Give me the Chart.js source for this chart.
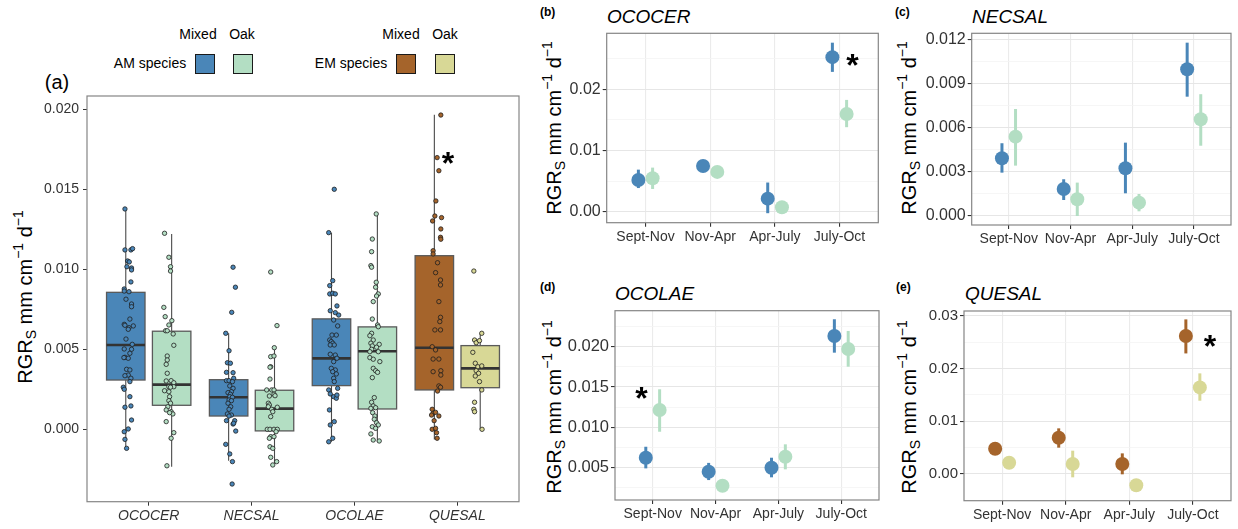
<!DOCTYPE html>
<html><head><meta charset="utf-8">
<script src="https://cdn.jsdelivr.net/npm/chart.js@4.4.1/dist/chart.umd.min.js"></script>
<style>
body{margin:0;background:#fff;width:1238px;height:529px;position:relative;overflow:hidden;font-family:"Liberation Sans",Arial,Helvetica,sans-serif;color:#000;}
canvas{position:absolute;}
.t{position:absolute;white-space:nowrap;line-height:1;}
.c{transform:translate(-50%,-50%);}
.l{transform:translateY(-50%);}
.yt{position:absolute;white-space:nowrap;font-size:20px;line-height:1;transform:translate(-50%,-50%) rotate(-90deg);}
.yt sub{font-size:14px;vertical-align:-4px;line-height:0;}
.yt sup{font-size:14px;vertical-align:9px;line-height:0;}
.key{position:absolute;width:20px;height:20px;box-sizing:border-box;border:1.6px solid #1a1a1a;}
.ptitle{font-size:19px;font-style:italic;}
.plab{font-size:12px;font-weight:bold;}
</style></head>
<body>
<!-- legend -->
<div class="t c" style="left:198px;top:34px;font-size:14px">Mixed</div>
<div class="t c" style="left:242px;top:34px;font-size:14px">Oak</div>
<div class="t c" style="left:150px;top:63px;font-size:14px">AM species</div>
<div class="key" style="left:195px;top:54px;background:#4a86b8"></div>
<div class="key" style="left:233px;top:54px;background:#b3dec3"></div>
<div class="t c" style="left:401px;top:34px;font-size:14px">Mixed</div>
<div class="t c" style="left:445px;top:34px;font-size:14px">Oak</div>
<div class="t c" style="left:351px;top:63px;font-size:14px">EM species</div>
<div class="key" style="left:396px;top:54px;background:#a5642b"></div>
<div class="key" style="left:435px;top:54px;background:#d8d896"></div>
<div class="t c" style="left:57px;top:82px;font-size:20px">(a)</div>

<div class="yt" style="left:25px;top:297px">RGR<sub>S</sub> mm cm<sup>−1</sup> d<sup>−1</sup></div>
<div class="yt" style="left:554px;top:128px">RGR<sub>S</sub> mm cm<sup>−1</sup> d<sup>−1</sup></div>
<div class="yt" style="left:909px;top:128px">RGR<sub>S</sub> mm cm<sup>−1</sup> d<sup>−1</sup></div>
<div class="yt" style="left:554px;top:407px">RGR<sub>S</sub> mm cm<sup>−1</sup> d<sup>−1</sup></div>
<div class="yt" style="left:909px;top:407px">RGR<sub>S</sub> mm cm<sup>−1</sup> d<sup>−1</sup></div>

<div class="t l plab" style="left:540px;top:12px">(b)</div>
<div class="t l ptitle" style="left:607px;top:16px">OCOCER</div>
<div class="t l plab" style="left:895px;top:12px">(c)</div>
<div class="t l ptitle" style="left:972px;top:16px">NECSAL</div>
<div class="t l plab" style="left:540px;top:287px">(d)</div>
<div class="t l ptitle" style="left:615px;top:293px">OCOLAE</div>
<div class="t l plab" style="left:896px;top:287px">(e)</div>
<div class="t l ptitle" style="left:965px;top:293px">QUESAL</div>

<canvas id="ca" width="490" height="439" style="left:40px;top:90px"></canvas>
<canvas id="cb" width="360" height="245" style="left:530px;top:25px"></canvas>
<canvas id="cc" width="353" height="245" style="left:885px;top:25px"></canvas>
<canvas id="cd" width="360" height="229" style="left:530px;top:300px"></canvas>
<canvas id="ce" width="353" height="229" style="left:885px;top:300px"></canvas>

<script>
// ---------------- DATA ----------------
const categoriesA = ['OCOCER','NECSAL','OCOLAE','QUESAL'];
const periods = ['Sept-Nov','Nov-Apr','Apr-July','July-Oct'];

const colAMMixed = '#4a86b8', colAMOak = '#b3dec3', colEMMixed = '#a5642b', colEMOak = '#d8d896';
const mixedColors = [colAMMixed, colAMMixed, colAMMixed, colEMMixed];
const oakColors = [colAMOak, colAMOak, colAMOak, colEMOak];

// panel (a) box statistics
const mixedLow  = [-0.00123, -0.00196, -0.00078, -0.00063];
const mixedQ1   = [0.00308, 0.00083, 0.00273, 0.00246];
const mixedMed  = [0.00527, 0.00200, 0.00443, 0.00510];
const mixedQ3   = [0.00856, 0.00310, 0.00690, 0.01085];
const mixedHigh = [0.01377, 0.00600, 0.01229, 0.01966];
const oakLow  = [-0.00234, -0.00213, -0.00078, 0.00000];
const oakQ1   = [0.00150, -0.00010, 0.00127, 0.00260];
const oakMed  = [0.00279, 0.00129, 0.00488, 0.00381];
const oakQ3   = [0.00613, 0.00244, 0.00640, 0.00523];
const oakHigh = [0.01220, 0.00510, 0.01346, 0.00600];

// panel (a) individual observations (values and read-off jitter offsets)
const ococerMixedVals = [0.01377,0.01121,0.01121,0.01129,0.01052,0.01046,0.01016,0.01008,0.00996,0.00921,0.00877,0.00864,0.0086,0.00813,0.00783,0.00766,0.00689,0.00656,0.0065,0.00646,0.00635,0.00625,0.00564,0.00531,0.00502,0.005,0.00475,0.0045,0.00444,0.00448,0.00375,0.00371,0.00339,0.00335,0.00319,0.00298,0.00263,0.0025,0.00204,0.00138,0.00146,0.00058,-0.00015,0.00002,-0.00063,-0.00119];
const ococerMixedJit = [-0.008,-0.008,0.05,0.066,0.018,0.034,0.011,0.056,0.056,0.05,-0.015,-0.015,0.031,0.002,0.056,0.056,0.04,-0.015,-0.008,0.073,0.031,0.024,0.002,0.063,-0.015,0.056,0.04,-0.008,0.024,-0.018,0.008,0.04,0.024,-0.008,0.05,0.04,-0.024,-0.015,0.04,-0.008,0.05,0.056,-0.015,0.024,-0.008,0.008];
const ococerOakVals = [0.01225,0.01075,0.01016,0.00989,0.00762,0.00704,0.00652,0.00679,0.00616,0.00616,0.00596,0.00525,0.00458,0.00433,0.00406,0.0035,0.00302,0.00304,0.00291,0.00241,0.00266,0.00266,0.00263,0.00235,0.00204,0.00179,0.00163,0.00141,0.00121,0.0011,0.00096,0.00104,0.00048,-0.00021,-0.00056,-0.00228];
const ococerOakJit = [-0.069,-0.027,-0.011,-0.011,-0.076,-0.063,-0.027,0.002,-0.059,-0.043,0.015,0.021,-0.043,-0.043,-0.053,-0.043,-0.053,-0.005,0.021,-0.069,-0.027,0.021,-0.011,-0.027,-0.02,-0.027,-0.011,-0.037,-0.053,-0.005,0.012,-0.02,-0.053,0.021,-0.005,-0.046];
const necsalMixedVals = [0.01013,0.00888,0.00731,0.006,0.00491,0.00416,0.00413,0.00356,0.00354,0.00319,0.00304,0.00304,0.00298,0.00271,0.00256,0.00235,0.00229,0.00219,0.00204,0.002,0.00183,0.00179,0.00163,0.00141,0.00125,0.00096,0.00089,0.00083,0.00054,0.00054,0.00033,0.00038,-0.00011,-0.00094,-0.00154,-0.00202,-0.00342];
const necsalMixedJit = [0.043,0.066,0.03,-0.028,0.004,-0.012,0.017,-0.021,0.043,0.049,-0.021,0.004,0.037,0.011,0.043,0.027,-0.006,0.017,0.011,0.037,0.004,0.027,-0.006,0.02,0.004,-0.012,0.027,0.004,-0.021,0.059,0.043,0.049,0.069,-0.028,0.011,0.037,0.034];
const necsalOakVals = [0.00983,0.00648,0.0051,0.00454,0.00458,0.00391,0.00388,0.00314,0.00246,0.00246,0.00246,0.00208,0.00219,0.0021,0.00163,0.00152,0.00141,0.00138,0.00125,0.0011,0.00079,0,0,0,0,-0.00015,-0.00046,-0.00046,-0.00056,-0.00109,-0.00119,-0.00175,-0.00202,-0.00223];
const necsalOakJit = [-0.037,0.024,-0.002,-0.037,-0.005,-0.037,-0.044,-0.044,-0.076,-0.027,-0.005,-0.05,-0.005,0.005,-0.06,-0.05,-0.06,0.027,-0.027,-0.017,-0.037,-0.07,-0.044,-0.005,0.027,0.015,-0.037,-0.005,-0.05,-0.044,-0.017,-0.037,0.021,-0.017];
const ocolaeMixedVals = [0.015,0.01229,0.00929,0.00898,0.00846,0.0085,0.00846,0.00741,0.00771,0.00729,0.00714,0.00683,0.00646,0.00589,0.00589,0.00558,0.00548,0.00538,0.00527,0.00527,0.00469,0.00464,0.00423,0.00444,0.00381,0.00371,0.0036,0.00346,0.00319,0.00298,0.00246,0.00256,0.00221,0.00204,0.00194,0.00214,0.00121,0.00048,0.00027,-0.00056,-0.00078];
const ocolaeMixedJit = [0.027,-0.027,0.012,-0.017,-0.017,0.012,0.037,-0.012,0.053,0.037,0.07,0.021,0.06,0.005,0.047,-0.017,-0.002,0.012,-0.012,0.027,-0.012,0.037,0.021,0.053,-0.002,0.037,0.012,0.047,0.021,0.027,-0.027,0.06,-0.012,0.021,0.047,0.053,-0.02,0.027,-0.012,0.012,-0.027];
const ocolaeOakVals = [0.01346,0.01189,0.0111,0.01023,0.01013,0.00919,0.00888,0.00846,0.00833,0.00798,0.00689,0.00652,0.00641,0.006,0.00585,0.00558,0.00538,0.00531,0.00521,0.00513,0.005,0.00485,0.00485,0.00448,0.00438,0.00423,0.00381,0.00366,0.00356,0.00323,0.00198,0.00169,0.00146,0.00135,0.00131,0.00104,0.00083,0.00063,0.00041,0.00027,0.00016,0.00006,-0.00029,-0.00073,-0.00067];
const ocolaeOakJit = [-0.011,-0.049,-0.056,-0.063,-0.056,-0.011,-0.017,0.009,-0.008,-0.04,-0.049,0.002,0.009,-0.056,-0.073,-0.04,-0.063,0.018,-0.049,-0.008,-0.056,-0.073,0.009,-0.073,-0.04,0.024,-0.04,-0.017,0.002,-0.049,-0.03,-0.056,-0.04,-0.017,-0.063,-0.046,-0.024,-0.03,-0.008,0.009,-0.049,-0.017,-0.063,0.018,-0.04];
const quesalMixedVals = [0.01964,0.01698,0.01616,0.01427,0.01333,0.01323,0.01302,0.01252,0.012,0.01188,0.01116,0.01096,0.01041,0.00979,0.00933,0.00902,0.00798,0.007,0.00673,0.00621,0.00621,0.00516,0.00496,0.00439,0.00439,0.0036,0.00366,0.00339,0.00271,0.00263,0.00239,0.00125,0.001,0.00089,0.00106,0.00083,0.00054,0,0.00006,-0.00021,-0.00056];
const quesalMixedJit = [0.063,0.027,0.044,0.015,0.005,0.07,-0.017,0.063,0.06,0.063,-0.012,-0.012,0.031,0.012,0.06,0.06,0.044,0.06,0.053,0.005,0.06,-0.021,0.012,-0.012,0.044,-0.012,0.063,0.063,0.044,0.06,0.031,-0.021,-0.012,-0.027,0.012,0.044,-0.002,-0.021,0.012,0.021,0.027];
const quesalOakVals = [0.00989,0.006,0.00558,0.00541,0.00554,0.00481,0.00413,0.00391,0.00396,0.00366,0.0035,0.00333,0.00298,0.00246,0.00169,0.00125,0.0011,0];
const quesalOakJit = [-0.062,0.015,-0.055,-0.039,-0.007,-0.072,-0.048,-0.023,0.015,-0.039,-0.016,-0.048,-0.007,0.015,-0.055,-0.062,-0.055,0.018];

const tickValuesA = [0, 0.005, 0.01, 0.015, 0.02];
const tickLabelsA = ['0.000','0.005','0.010','0.015','0.020'];

// panels (b)-(e): mean and interval per period
const ococerMixedMean = [0.00522, 0.00750, 0.00217, 0.02524];
const ococerMixedLo   = [0.00390, 0.00690, -0.00020, 0.02284];
const ococerMixedHi   = [0.00690, 0.00810, 0.00480, 0.02760];
const ococerOakMean = [0.00550, 0.00653, 0.00077, 0.01598];
const ococerOakLo   = [0.00375, 0.00580, 0.00030, 0.01382];
const ococerOakHi   = [0.00723, 0.00730, 0.00120, 0.01827];

const necsalMixedMean = [0.00392, 0.00182, 0.00324, 0.01000];
const necsalMixedLo   = [0.00294, 0.00107, 0.00153, 0.00813];
const necsalMixedHi   = [0.00495, 0.00249, 0.00499, 0.01182];
const necsalOakMean = [0.00540, 0.00112, 0.00089, 0.00659];
const necsalOakLo   = [0.00342, -0.00002, 0.00030, 0.00478];
const necsalOakHi   = [0.00729, 0.00226, 0.00148, 0.00830];

const ocolaeMixedMean = [0.00624, 0.00450, 0.00500, 0.02133];
const ocolaeMixedLo   = [0.00492, 0.00347, 0.00381, 0.01926];
const ocolaeMixedHi   = [0.00760, 0.00560, 0.00624, 0.02340];
const ocolaeOakMean = [0.01215, 0.00277, 0.00636, 0.01972];
const ocolaeOakLo   = [0.00946, 0.00220, 0.00480, 0.01752];
const ocolaeOakHi   = [0.01472, 0.00330, 0.00790, 0.02195];

const quesalMixedMean = [0.00479, 0.00688, 0.00189, 0.02614];
const quesalMixedLo   = [0.00400, 0.00499, -0.00006, 0.02285];
const quesalMixedHi   = [0.00560, 0.00865, 0.00391, 0.02930];
const quesalOakMean = [0.00214, 0.00189, -0.00214, 0.01641];
const quesalOakLo   = [0.00150, -0.00063, -0.00280, 0.01389];
const quesalOakHi   = [0.00280, 0.00442, -0.00150, 0.01907];

const ticksB = [0, 0.01, 0.02], labelsB = ['0.00','0.01','0.02'], minorB = [0.005, 0.015, 0.025];
const ticksC = [0, 0.003, 0.006, 0.009, 0.012], labelsC = ['0.000','0.003','0.006','0.009','0.012'], minorC = [0.0015, 0.0045, 0.0075, 0.0105];
const ticksD = [0.005, 0.01, 0.015, 0.02], labelsD = ['0.005','0.010','0.015','0.020'], minorD = [0.0025, 0.0075, 0.0125, 0.0175, 0.0225];
const ticksE = [0, 0.01, 0.02, 0.03], labelsE = ['0.00','0.01','0.02','0.03'], minorE = [-0.005, 0.005, 0.015, 0.025];

// significance markers: [x (category units), y]
const starA = [3.91, 0.01713];
const starB = [4.2, 0.02524];
const starD = [0.82, 0.01455];
const starE = [4.27, 0.02557];

// ---------------- RENDER ----------------
const FONT = '"Liberation Sans", Arial, Helvetica, sans-serif';
Chart.defaults.font.family = FONT;
Chart.defaults.animation = false;

function frameAndStar(star) {
  return {
    id: 'frame',
    afterDraw(chart) {
      const {ctx, chartArea: a, scales: {x, y}} = chart;
      ctx.save();
      ctx.strokeStyle = '#858585';
      ctx.lineWidth = 1.2;
      ctx.strokeRect(a.left, a.top, a.right - a.left, a.bottom - a.top);
      if (star) {
        const size = 32;
        ctx.font = 'bold ' + size + 'px ' + FONT;
        ctx.fillStyle = '#000';
        ctx.textAlign = 'center';
        ctx.textBaseline = 'alphabetic';
        ctx.fillText('*', x.getPixelForValue(star[0]), y.getPixelForValue(star[1]) + 0.575 * size);
      }
      ctx.restore();
    }
  };
}

function fixAxis(size, isX) {
  return function (s) {
    if (isX) s.height = size; else s.width = size;
    s.paddingTop = 0; s.paddingBottom = 0; s.paddingLeft = 0; s.paddingRight = 0;
  };
}

// ---- panel (a)
(function () {
  const dodge = [-0.223, 0.223], half = 0.187;
  const groups = [
    [ococerMixedVals, ococerMixedJit, 0, 0], [ococerOakVals, ococerOakJit, 0, 1],
    [necsalMixedVals, necsalMixedJit, 1, 0], [necsalOakVals, necsalOakJit, 1, 1],
    [ocolaeMixedVals, ocolaeMixedJit, 2, 0], [ocolaeOakVals, ocolaeOakJit, 2, 1],
    [quesalMixedVals, quesalMixedJit, 3, 0], [quesalOakVals, quesalOakJit, 3, 1]
  ];
  const datasets = groups.map(([vals, jit, ci, si]) => ({
    data: vals.map((v, i) => ({x: ci + 1 + dodge[si] + (jit[i] || 0), y: v})),
    backgroundColor: si === 0 ? mixedColors[ci] : oakColors[ci],
    borderColor: '#1e1e1e',
    borderWidth: 0.8,
    pointRadius: 2.2,
    showLine: false
  }));
  const boxPlugin = {
    id: 'boxes',
    beforeDatasetsDraw(chart) {
      const {ctx, scales: {x, y}} = chart;
      const sets = [
        [mixedLow, mixedQ1, mixedMed, mixedQ3, mixedHigh, mixedColors, dodge[0]],
        [oakLow, oakQ1, oakMed, oakQ3, oakHigh, oakColors, dodge[1]]
      ];
      ctx.save();
      sets.forEach(([lo, q1, med, q3, hi, cols, off]) => {
        categoriesA.forEach((c, i) => {
          const xc = x.getPixelForValue(i + 1 + off);
          const xl = x.getPixelForValue(i + 1 + off - half);
          const xr = x.getPixelForValue(i + 1 + off + half);
          const yl = y.getPixelForValue(lo[i]), y1 = y.getPixelForValue(q1[i]),
                ym = y.getPixelForValue(med[i]), y3 = y.getPixelForValue(q3[i]),
                yh = y.getPixelForValue(hi[i]);
          ctx.strokeStyle = '#4a4a4a';
          ctx.lineWidth = 1.1;
          ctx.beginPath();
          ctx.moveTo(xc, yh); ctx.lineTo(xc, y3);
          ctx.moveTo(xc, y1); ctx.lineTo(xc, yl);
          ctx.stroke();
          ctx.fillStyle = cols[i];
          ctx.fillRect(xl, y3, xr - xl, y1 - y3);
          ctx.strokeStyle = '#5a5a5a';
          ctx.lineWidth = 1.3;
          ctx.strokeRect(xl, y3, xr - xl, y1 - y3);
          ctx.strokeStyle = '#333';
          ctx.lineWidth = 2.6;
          ctx.beginPath(); ctx.moveTo(xl, ym); ctx.lineTo(xr, ym); ctx.stroke();
        });
      });
      ctx.restore();
    }
  };
  new Chart(document.getElementById('ca'), {
    type: 'scatter',
    data: {datasets},
    options: {
      responsive: false, devicePixelRatio: 1, events: [],
      layout: {padding: {left: 0, top: 6, right: 11, bottom: 0}},
      plugins: {legend: {display: false}, tooltip: {enabled: false}},
      scales: {
        x: {
          type: 'linear', min: 0.4, max: 4.6,
          afterBuildTicks: s => { s.ticks = categoriesA.map((c, i) => ({value: i + 1})); },
          afterFit: fixAxis(27.3, true),
          ticks: {autoSkip: false, maxRotation: 0, minRotation: 0, padding: 2, color: '#333',
                  font: {size: 14, style: 'italic'}, callback: (v, i) => categoriesA[i]},
          grid: {drawOnChartArea: false, drawTicks: true, tickLength: 4, tickColor: '#333'},
          border: {display: false}
        },
        y: {
          type: 'linear', min: -0.004525, max: 0.02083,
          afterBuildTicks: s => { s.ticks = tickValuesA.map(v => ({value: v})); },
          afterFit: fixAxis(47, false),
          ticks: {autoSkip: false, padding: 4, color: '#333', font: {size: 14},
                  callback: (v, i) => tickLabelsA[i]},
          grid: {drawOnChartArea: false, drawTicks: true, tickLength: 4, tickColor: '#333'},
          border: {display: false}
        }
      }
    },
    plugins: [boxPlugin, frameAndStar(starA)]
  });
})();

// ---- panels (b)-(e)
function rangePanel(id, canvasBox, area, yMin, yMax, majors, majorLabels, minors, yFont,
                    cMixed, cOak, mMean, mLo, mHi, oMean, oLo, oHi, star) {
  const dodge = [-0.11, 0.11];
  const isMajor = v => majors.some(m => Math.abs(m - v) < 1e-9);
  const allTicks = majors.concat(minors).sort((a, b) => a - b);
  const errPlugin = {
    id: 'err',
    beforeDatasetsDraw(chart) {
      const {ctx, scales: {x, y}} = chart;
      ctx.save();
      ctx.lineWidth = 3;
      ctx.lineCap = 'butt';
      [[mLo, mHi, cMixed, dodge[0]], [oLo, oHi, cOak, dodge[1]]].forEach(([lo, hi, col, off]) => {
        ctx.strokeStyle = col;
        periods.forEach((p, i) => {
          const xp = x.getPixelForValue(i + 1 + off);
          ctx.beginPath();
          ctx.moveTo(xp, y.getPixelForValue(lo[i]));
          ctx.lineTo(xp, y.getPixelForValue(hi[i]));
          ctx.stroke();
        });
      });
      ctx.restore();
    }
  };
  new Chart(document.getElementById(id), {
    type: 'scatter',
    data: {
      datasets: [
        {data: mMean.map((v, i) => ({x: i + 1 + dodge[0], y: v})), backgroundColor: cMixed,
         borderWidth: 0, pointRadius: 7, showLine: false},
        {data: oMean.map((v, i) => ({x: i + 1 + dodge[1], y: v})), backgroundColor: cOak,
         borderWidth: 0, pointRadius: 7, showLine: false}
      ]
    },
    options: {
      responsive: false, devicePixelRatio: 1, events: [],
      layout: {padding: {left: 0, top: area.t - canvasBox.top, right: canvasBox.left + canvasBox.w - area.r, bottom: 0}},
      plugins: {legend: {display: false}, tooltip: {enabled: false}},
      scales: {
        x: {
          type: 'linear', min: 0.4, max: 4.6,
          afterBuildTicks: s => { s.ticks = periods.map((p, i) => ({value: i + 1})); },
          afterFit: fixAxis(canvasBox.top + canvasBox.h - area.b, true),
          ticks: {autoSkip: false, maxRotation: 0, minRotation: 0, padding: 2, color: '#333',
                  font: {size: 14}, callback: (v, i) => periods[i]},
          grid: {color: '#ebebeb', lineWidth: 1.1, drawTicks: true, tickLength: 4, tickColor: '#333'},
          border: {display: false}
        },
        y: {
          type: 'linear', min: yMin, max: yMax,
          afterBuildTicks: s => { s.ticks = allTicks.map(v => ({value: v})); },
          afterFit: fixAxis(area.l - canvasBox.left, false),
          ticks: {autoSkip: false, padding: 2, color: '#333', font: {size: yFont},
                  callback: v => { const k = majors.findIndex(m => Math.abs(m - v) < 1e-9); return k >= 0 ? majorLabels[k] : ''; }},
          grid: {
            color: ctx => isMajor(ctx.tick.value) ? '#e6e6e6' : '#f4f4f4',
            lineWidth: ctx => isMajor(ctx.tick.value) ? 1.1 : 0.8,
            drawTicks: true, tickLength: 4,
            tickColor: ctx => isMajor(ctx.tick.value) ? '#333' : 'rgba(0,0,0,0)'
          },
          border: {display: false}
        }
      }
    },
    plugins: [errPlugin, frameAndStar(star)]
  });
}

rangePanel('cb', {left: 530, top: 25, w: 360, h: 245}, {l: 606.7, t: 33.3, r: 878.3, b: 222.7},
  -0.00175, 0.02913, ticksB, labelsB, minorB, 16, colAMMixed, colAMOak,
  ococerMixedMean, ococerMixedLo, ococerMixedHi, ococerOakMean, ococerOakLo, ococerOakHi, starB);
rangePanel('cc', {left: 885, top: 25, w: 353, h: 245}, {l: 971.7, t: 33.3, r: 1233.3, b: 225},
  -0.000636, 0.01246, ticksC, labelsC, minorC, 16, colAMMixed, colAMOak,
  necsalMixedMean, necsalMixedLo, necsalMixedHi, necsalOakMean, necsalOakLo, necsalOakHi, null);
rangePanel('cd', {left: 530, top: 300, w: 360, h: 229}, {l: 615, t: 310.7, r: 879, b: 500},
  0.001, 0.02446, ticksD, labelsD, minorD, 16.5, colAMMixed, colAMOak,
  ocolaeMixedMean, ocolaeMixedLo, ocolaeMixedHi, ocolaeOakMean, ocolaeOakLo, ocolaeOakHi, starD);
rangePanel('ce', {left: 885, top: 300, w: 353, h: 229}, {l: 964, t: 311, r: 1234.3, b: 500.7},
  -0.00506, 0.03089, ticksE, labelsE, minorE, 15, colEMMixed, colEMOak,
  quesalMixedMean, quesalMixedLo, quesalMixedHi, quesalOakMean, quesalOakLo, quesalOakHi, starE);
</script>
</body></html>
